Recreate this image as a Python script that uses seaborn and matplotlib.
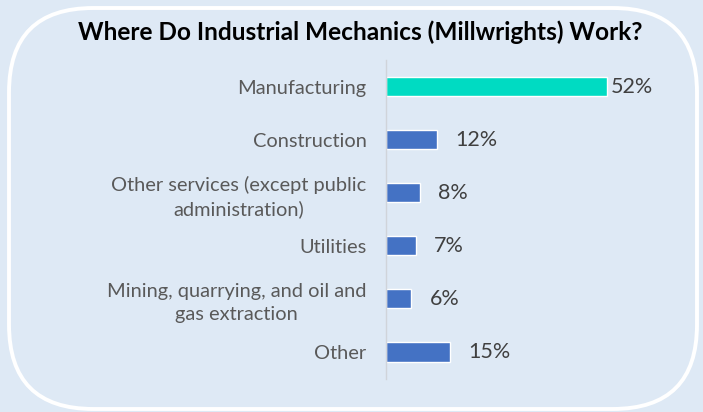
import matplotlib
matplotlib.use("Agg")
import matplotlib.pyplot as plt
import seaborn as sns
import pandas as pd
from matplotlib.patches import FancyBboxPatch

categories = [
    "Manufacturing",
    "Construction",
    "Other services (except public\nadministration)",
    "Utilities",
    "Mining, quarrying, and oil and\ngas extraction",
    "Other",
]
values = [52, 12, 8, 7, 6, 15]
value_labels = ["52%", "12%", "8%", "7%", "6%", "15%"]
title = "Where Do Industrial Mechanics (Millwrights) Work?"

bg = "#DEE9F5"
teal = "#00DBC2"
blue = "#4472C4"
colors = [teal] + [blue] * 5

sns.set_theme(style="white")
plt.rcParams["font.family"] = ["Lato", "DejaVu Sans"]

df = pd.DataFrame({"cat": categories, "val": values})

fig = plt.figure(figsize=(7.03, 4.12), dpi=100, facecolor=bg)
W, H = 703, 412

# rounded white frame
frame = FancyBboxPatch((9 / W, 3 / H), (697 - 9) / W, (404 - 3) / H,
                       boxstyle="round,pad=0,rounding_size=0.12",
                       transform=fig.transFigure, facecolor="none",
                       edgecolor="white", linewidth=2.8,
                       mutation_aspect=W / H)
fig.patches.append(frame)

ax_left = 386 / W
ax_right = 690 / W
ax_top = 60 / H
ax_bot = 378.5 / H
ax = fig.add_axes([ax_left, 1 - ax_bot, ax_right - ax_left, ax_bot - ax_top])
ax.set_facecolor("none")

sns.barplot(data=df, y="cat", x="val", hue="cat", palette=colors,
            orient="h", width=0.36, legend=False, ax=ax, saturation=1)

px_per_unit = 4.25
ax.set_xlim(0, (690 - 386) / px_per_unit)
ax.set_ylim(5.5, -0.5)

for s in ["top", "right", "bottom"]:
    ax.spines[s].set_visible(False)
ax.spines["left"].set_color("#D0D4DA")
ax.spines["left"].set_linewidth(1.0)
ax.set_xticks([])
ax.set_xlabel("")
ax.set_ylabel("")
ax.tick_params(axis="y", length=0, pad=14, labelsize=14.4, labelcolor="#595959")
for t in ax.get_yticklabels():
    t.set_multialignment("center")
    t.set_linespacing(1.4)

offsets = [3, 13, 13, 13, 13, 13]
for i, (v, lab) in enumerate(zip(values, value_labels)):
    ax.annotate(lab, xy=(v, i), xytext=(offsets[i], 0), textcoords="offset points",
                va="center", ha="left", fontsize=15.5, color="#404040")

fig.text(360 / W, 1 - 32 / H, title, ha="center", va="center",
         fontsize=17.6, fontweight="bold", color="black")

fig.savefig("out.png", dpi=100, facecolor=bg)
